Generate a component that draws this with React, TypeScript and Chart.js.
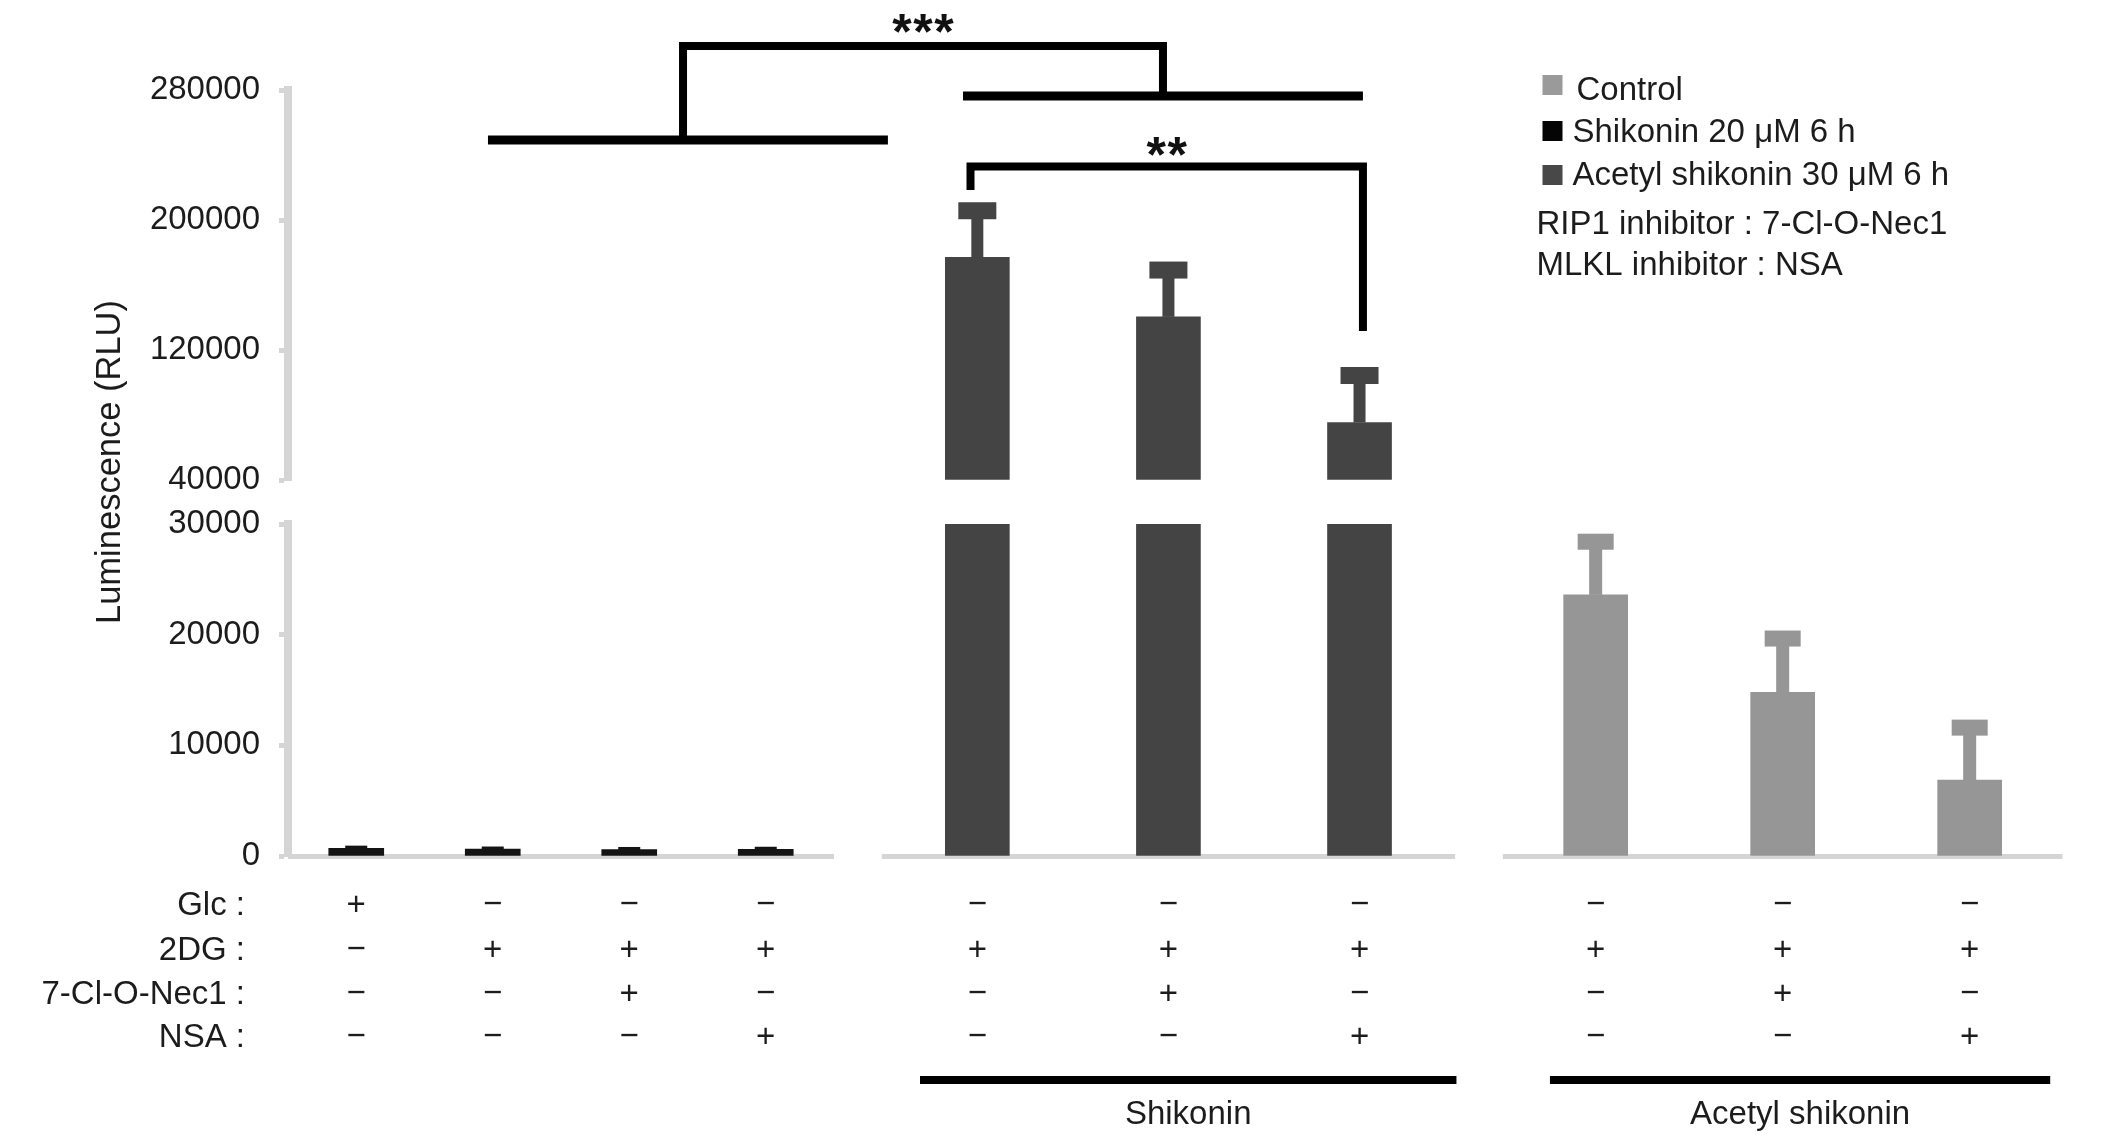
import React, { useEffect, useRef } from 'react';
import { Chart, registerables } from 'chart.js';

Chart.register(...registerables);

const FONT = '"Liberation Sans", Arial, Helvetica, sans-serif';
const TEXT = '#1c1c1c';
const AXIS_GREY = '#d5d5d5';
const BLACK_BAR = '#141414';
const DARK_BAR = '#444444';
const LIGHT_BAR = '#969696';

// ---------------- data ----------------
const conditions = [
  'Glc', '2DG', '2DG + 7-Cl-O-Nec1', '2DG + NSA',
  'Shikonin + 2DG', 'Shikonin + 2DG + 7-Cl-O-Nec1', 'Shikonin + 2DG + NSA',
  'Acetyl shikonin + 2DG', 'Acetyl shikonin + 2DG + 7-Cl-O-Nec1', 'Acetyl shikonin + 2DG + NSA',
];
// position of each condition on the (linear) category axis
const slotX = [0.5, 1.5, 2.5, 3.5, 5.05, 6.45, 7.85, 9.58, 10.95, 12.32];

const baselineValues = [700, 620, 580, 600];
const baselineErrors = [100, 100, 100, 100];
const shikoninValues = [177000, 140400, 75400];
const shikoninErrors = [28700, 28800, 28900];
const acetylValues = [23600, 14800, 6850];
const acetylErrors = [4800, 4850, 4750];

const upperTicks = [40000, 120000, 200000, 280000];
const lowerTicks = [0, 10000, 20000, 30000];

const rowLabels = ['Glc :', '2DG :', '7-Cl-O-Nec1 :', 'NSA :'];
const glcRow = ['+', '−', '−', '−', '−', '−', '−', '−', '−', '−'];
const dgRow = ['−', '+', '+', '+', '+', '+', '+', '+', '+', '+'];
const necRow = ['−', '−', '+', '−', '−', '+', '−', '−', '+', '−'];
const nsaRow = ['−', '−', '−', '+', '−', '−', '+', '−', '−', '+'];
const tableRows = [glcRow, dgRow, necRow, nsaRow];

const axisSegments = [[0, 4], [4.35, 8.55], [8.9, 13]];
const treatmentNames = ['Shikonin', 'Acetyl shikonin'];
const treatmentSpans = [[4.63, 8.56], [9.245, 12.91]];

const legendLabels = ['Control', 'Shikonin 20 μM 6 h', 'Acetyl shikonin 30 μM 6 h'];
const legendColors = ['#9a9a9a', '#050505', '#484848'];
const noteLines = ['RIP1 inhibitor : 7-Cl-O-Nec1', 'MLKL inhibitor : NSA'];

const significance = [
  { label: '***', left: 2.894, right: 6.41, top: 307100, leftEnd: 249200, rightEnd: 276300, labelAt: 321200 },
  { label: '**', left: 5.0, right: 7.875, top: 232900, leftEnd: 218500, rightEnd: 131700, labelAt: 245500 },
];
const comparisonBars = [
  { from: 1.465, to: 4.395, at: 249200 },
  { from: 4.945, to: 7.875, at: 276300 },
];

const UPPER_MIN = 40000;
const UPPER_MAX = 280000;
const LOWER_MAX = 30000;

// ---------------- helpers ----------------
function capText(ctx: CanvasRenderingContext2D, str: string, x: number, yc: number, align: CanvasTextAlign, font: string) {
  ctx.font = font;
  ctx.textAlign = align;
  ctx.textBaseline = 'alphabetic';
  const h = ctx.measureText('H').actualBoundingBoxAscent;
  ctx.fillText(str, x, yc + h / 2);
}
function boxText(ctx: CanvasRenderingContext2D, str: string, x: number, yc: number, font: string) {
  ctx.font = font;
  ctx.textAlign = 'center';
  ctx.textBaseline = 'alphabetic';
  const m = ctx.measureText(str);
  ctx.fillText(str, x, yc + (m.actualBoundingBoxAscent - m.actualBoundingBoxDescent) / 2);
}

const errorSpecs = [
  { ds: 0, values: baselineValues, errors: baselineErrors, axis: 'yBot', color: BLACK_BAR, stem: 4, capW: 22, capH: 3 },
  { ds: 2, values: shikoninValues, errors: shikoninErrors, axis: 'yTop', color: DARK_BAR, stem: 12, capW: 38, capH: 17 },
  { ds: 3, values: acetylValues, errors: acetylErrors, axis: 'yBot', color: LIGHT_BAR, stem: 13, capW: 36, capH: 16 },
];

const overlay = {
  id: 'figureOverlay',
  beforeDatasetsDraw(chart: any) {
    const { ctx, scales } = chart;
    const x = scales.x;
    const y0 = scales.yBot.getPixelForValue(0);
    ctx.save();
    ctx.fillStyle = AXIS_GREY;
    axisSegments.forEach(([a, b]) => {
      const x1 = x.getPixelForValue(a);
      const x2 = x.getPixelForValue(b);
      ctx.fillRect(x1, y0 - 2, x2 - x1, 5);
    });
    ctx.restore();
  },
  afterDatasetsDraw(chart: any) {
    const { ctx, scales } = chart;
    const x = scales.x;
    const yT = scales.yTop;
    ctx.save();
    // error bars
    errorSpecs.forEach((spec) => {
      const meta = chart.getDatasetMeta(spec.ds);
      const sc = scales[spec.axis];
      ctx.fillStyle = spec.color;
      spec.values.forEach((v, j) => {
        const el = meta.data[j];
        if (!el) return;
        const cx = el.x;
        const yv = sc.getPixelForValue(v);
        const ye = sc.getPixelForValue(v + spec.errors[j]);
        ctx.fillRect(cx - spec.stem / 2, ye, spec.stem, yv - ye);
        ctx.fillRect(cx - spec.capW / 2, ye - spec.capH / 2, spec.capW, spec.capH);
      });
    });
    // significance brackets
    ctx.strokeStyle = '#000';
    ctx.lineJoin = 'miter';
    ctx.lineCap = 'butt';
    ctx.fillStyle = '#111';
    significance.forEach((s) => {
      const xl = x.getPixelForValue(s.left);
      const xr = x.getPixelForValue(s.right);
      const yt = yT.getPixelForValue(s.top);
      ctx.lineWidth = 8;
      ctx.beginPath();
      ctx.moveTo(xl, yT.getPixelForValue(s.leftEnd));
      ctx.lineTo(xl, yt);
      ctx.lineTo(xr, yt);
      ctx.lineTo(xr, yT.getPixelForValue(s.rightEnd));
      ctx.stroke();
      const cx = (xl + xr) / 2;
      const cy = yT.getPixelForValue(s.labelAt);
      const n = s.label.length;
      for (let i = 0; i < n; i++) {
        boxText(ctx, '*', cx + (i - (n - 1) / 2) * 21, cy, `bold 50px ${FONT}`);
      }
    });
    comparisonBars.forEach((c) => {
      const yy = yT.getPixelForValue(c.at);
      ctx.lineWidth = 9;
      ctx.beginPath();
      ctx.moveTo(x.getPixelForValue(c.from), yy);
      ctx.lineTo(x.getPixelForValue(c.to), yy);
      ctx.stroke();
    });
    ctx.restore();
  },
  afterDraw(chart: any) {
    const { ctx, scales, chartArea } = chart;
    const x = scales.x;
    const bottom = chartArea.bottom;
    const left = chartArea.left;
    const f33 = `33px ${FONT}`;
    ctx.save();
    ctx.fillStyle = TEXT;

    // y-axis title spanning both segments
    ctx.save();
    ctx.translate(108, 462);
    ctx.rotate(-Math.PI / 2);
    capText(ctx, 'Luminescence (RLU)', 0, 0, 'center', `34.5px ${FONT}`);
    ctx.restore();

    // condition table
    const rowOffsets = [47, 92, 136, 179];
    rowLabels.forEach((lab, r) => {
      const yc = bottom + rowOffsets[r];
      capText(ctx, lab, left - 43, yc, 'right', f33);
      tableRows[r].forEach((sym, i) => {
        boxText(ctx, sym, x.getPixelForValue(slotX[i]), yc, f33);
      });
    });

    // treatment group lines and names
    ctx.fillStyle = '#000';
    treatmentSpans.forEach(([a, b], k) => {
      const x1 = x.getPixelForValue(a);
      const x2 = x.getPixelForValue(b);
      ctx.fillRect(x1, bottom + 220, x2 - x1, 8);
      ctx.fillStyle = TEXT;
      capText(ctx, treatmentNames[k], (x1 + x2) / 2, bottom + 256, 'center', f33);
      ctx.fillStyle = '#000';
    });

    // legend
    const lx = chartArea.right - 520;
    const swatchTops = [75, 121, 165];
    const textCenters = [88.5, 130, 173];
    legendLabels.forEach((lab, i) => {
      ctx.fillStyle = legendColors[i];
      ctx.fillRect(lx, swatchTops[i], 20, 20);
      ctx.fillStyle = TEXT;
      capText(ctx, lab, lx + (i === 0 ? 34 : 30), textCenters[i], 'left', f33);
    });
    const noteCenters = [222, 263];
    noteLines.forEach((t, i) => capText(ctx, t, lx - 6, noteCenters[i], 'left', f33));
    ctx.restore();
  },
};

function yAxis(min: number, max: number, ticksArr: number[], weight: number, stackWeight: number) {
  return {
    type: 'linear',
    position: 'left',
    stack: 'luminescence',
    stackWeight,
    weight,
    min,
    max,
    beginAtZero: false,
    afterBuildTicks: (s: any) => {
      s.ticks = ticksArr.map((v) => ({ value: v }));
    },
    afterFit: (s: any) => {
      s.width = 288;
    },
    ticks: {
      font: { family: FONT, size: 33 },
      color: TEXT,
      padding: 19,
      callback: (v: any) => String(v),
    },
    grid: {
      drawOnChartArea: false,
      drawTicks: true,
      tickLength: 9,
      tickWidth: 5,
      tickColor: AXIS_GREY,
      color: AXIS_GREY,
    },
    border: { display: true, color: AXIS_GREY, width: 8 },
  };
}

export default function App() {
  const ref = useRef<HTMLCanvasElement>(null);
  useEffect(() => {
    const pts = (idx: number[], vals: number[]) => idx.map((k, j) => ({ x: slotX[k], y: vals[j] }));
    const chart = new Chart(ref.current as HTMLCanvasElement, {
      type: 'bar',
      data: {
        labels: conditions,
        datasets: [
          {
            label: 'Glc / 2DG only',
            data: pts([0, 1, 2, 3], baselineValues),
            yAxisID: 'yBot',
            backgroundColor: BLACK_BAR,
            barThickness: 55,
            grouped: false,
          },
          {
            label: 'Shikonin (lower segment)',
            data: pts([4, 5, 6], shikoninValues.map((v) => Math.min(v, LOWER_MAX))),
            yAxisID: 'yBot',
            backgroundColor: DARK_BAR,
            barThickness: 64,
            grouped: false,
          },
          {
            label: 'Shikonin',
            data: pts([4, 5, 6], shikoninValues),
            yAxisID: 'yTop',
            base: UPPER_MIN,
            backgroundColor: DARK_BAR,
            barThickness: 64,
            grouped: false,
          },
          {
            label: 'Acetyl shikonin',
            data: pts([7, 8, 9], acetylValues),
            yAxisID: 'yBot',
            backgroundColor: LIGHT_BAR,
            barThickness: 64,
            grouped: false,
          },
        ] as any,
      },
      options: {
        animation: false,
        responsive: true,
        maintainAspectRatio: false,
        events: [],
        layout: { padding: { top: 90, right: 63.5, bottom: 286, left: 0 } },
        plugins: { legend: { display: false }, tooltip: { enabled: false } },
        scales: {
          x: { type: 'linear', min: 0, max: 13, display: false, offset: false, grid: { offset: false } },
          yTop: yAxis(UPPER_MIN, UPPER_MAX, upperTicks, 3, 390),
          yGap: {
            type: 'linear',
            position: 'left',
            stack: 'luminescence',
            stackWeight: 44,
            weight: 2,
            display: false,
            afterFit: (s: any) => {
              s.width = 288;
            },
          },
          yBot: yAxis(0, LOWER_MAX, lowerTicks, 1, 332),
        } as any,
      },
      plugins: [overlay],
    });
    return () => chart.destroy();
  }, []);

  return (
    <div style={{ position: 'fixed', left: 0, top: 0, width: 2126, height: 1142, background: '#ffffff' }}>
      <canvas ref={ref} />
    </div>
  );
}
